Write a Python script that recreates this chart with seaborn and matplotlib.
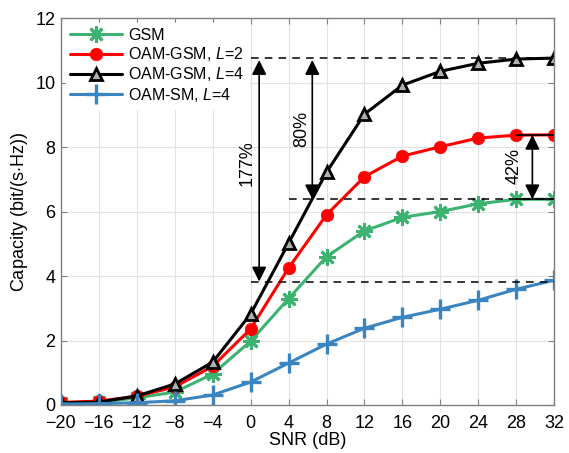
import numpy as np
import pandas as pd
import matplotlib
matplotlib.use('Agg')
import matplotlib.pyplot as plt
import seaborn as sns

# data
snr = [-20, -16, -12, -8, -4, 0, 4, 8, 12, 16, 20, 24, 28, 32]
gsm = [0.05, 0.08, 0.22, 0.40, 0.96, 1.98, 3.30, 4.60, 5.40, 5.82, 6.00, 6.24, 6.38, 6.38]
oam_gsm_l2 = [0.08, 0.12, 0.27, 0.56, 1.20, 2.36, 4.25, 5.90, 7.08, 7.72, 8.01, 8.28, 8.37, 8.38]
oam_gsm_l4 = [0.07, 0.09, 0.28, 0.65, 1.33, 2.82, 5.02, 7.22, 9.02, 9.92, 10.35, 10.60, 10.73, 10.76]
oam_sm_l4 = [0.03, 0.04, 0.07, 0.13, 0.31, 0.71, 1.30, 1.89, 2.38, 2.72, 2.97, 3.25, 3.59, 3.87]

sns.set_style('ticks')
plt.rcParams['font.family'] = ['Liberation Sans', 'DejaVu Sans']
plt.rcParams['mathtext.fontset'] = 'custom'
plt.rcParams['mathtext.it'] = 'Liberation Sans:italic'
plt.rcParams['mathtext.rm'] = 'Liberation Sans'
for k in ['text.color', 'axes.labelcolor', 'xtick.labelcolor', 'ytick.labelcolor']:
    plt.rcParams[k] = 'black'

fig = plt.figure(figsize=(5.69, 4.53), dpi=100)
ax = fig.add_axes([0.107, 0.106, 0.867, 0.854])

series = [
    (gsm, 'GSM', '#3cb371', (8, 2, 0), 12, 2.0, '#3cb371'),
    (oam_gsm_l2, 'OAM-GSM, $L$=2', '#ff0000', 'o', 9, 0.5, '#ff0000'),
    (oam_gsm_l4, 'OAM-GSM, $L$=4', 'black', '^', 9, 2.0, '#b0b0b0'),
    (oam_sm_l4, 'OAM-SM, $L$=4', '#3a85c0', '+', 14, 2.4, '#3a85c0'),
]
for vals, name, col, mk, ms, mew, face in series:
    sns.lineplot(x=snr, y=vals, ax=ax, color=col, label=name, linewidth=2.2)
    ln = ax.lines[-1]
    ln.set_linestyle('-')
    ln.set_marker(mk)
    ln.set_markersize(ms)
    ln.set_markeredgewidth(mew)
    ln.set_markeredgecolor(col)
    ln.set_markerfacecolor(face)

# reference levels
top, mid, low = 10.75, 6.38, 3.83
ax.plot([0, 32], [top, top], color='black', ls=(0, (5, 4)), lw=1.1)
ax.plot([4, 32], [mid, mid], color='black', ls=(0, (5, 4)), lw=1.1)
ax.plot([0, 32], [low, low], color='black', ls=(0, (5, 4)), lw=1.1)
ax.plot([28, 32], [8.38, 8.38], 'k-', lw=1.2)
ax.plot([28, 32], [mid, mid], 'k-', lw=1.2)

arrow = dict(arrowstyle='<|-|>', color='black', lw=1.2, mutation_scale=22,
             shrinkA=0, shrinkB=0)
ax.annotate('', xy=(0.9, top - 0.05), xytext=(0.9, low), arrowprops=arrow)
ax.annotate('', xy=(6.5, top - 0.05), xytext=(6.5, mid), arrowprops=arrow)
ax.annotate('', xy=(29.7, 8.38), xytext=(29.7, mid), arrowprops=arrow)
ax.text(-0.4, 7.5, '177%', rotation=90, ha='center', va='center', fontsize=13)
ax.text(5.4, 8.55, '80%', rotation=90, ha='center', va='center', fontsize=13)
ax.text(27.8, 7.4, '42%', rotation=90, ha='center', va='center', fontsize=13)

ax.set_xlim(-20, 32)
ax.set_ylim(0, 12)
ax.set_xticks(np.arange(-20, 33, 4))
ax.set_yticks(np.arange(0, 13, 2))
ax.grid(True, color='#e3e3e3', lw=0.8)
ax.tick_params(direction='in', top=True, right=True, labelsize=13, length=4,
               color='#808080')
ax.tick_params(axis='x', pad=7)
ax.tick_params(axis='y', pad=4)
for s in ax.spines.values():
    s.set_color('#808080')
    s.set_linewidth(1.0)
ax.set_xlabel('SNR (dB)', fontsize=13, labelpad=0)
ax.set_ylabel('Capacity (bit/(s$\\cdot$Hz))', fontsize=13, labelpad=4)

leg = ax.legend(loc='upper left', fontsize=11.5, frameon=True, fancybox=False,
                edgecolor='white', framealpha=1, handlelength=3.2,
                borderaxespad=0.3, labelspacing=0.15, handletextpad=0.4,
                borderpad=0.3)

fig.savefig('out.png', dpi=100)
